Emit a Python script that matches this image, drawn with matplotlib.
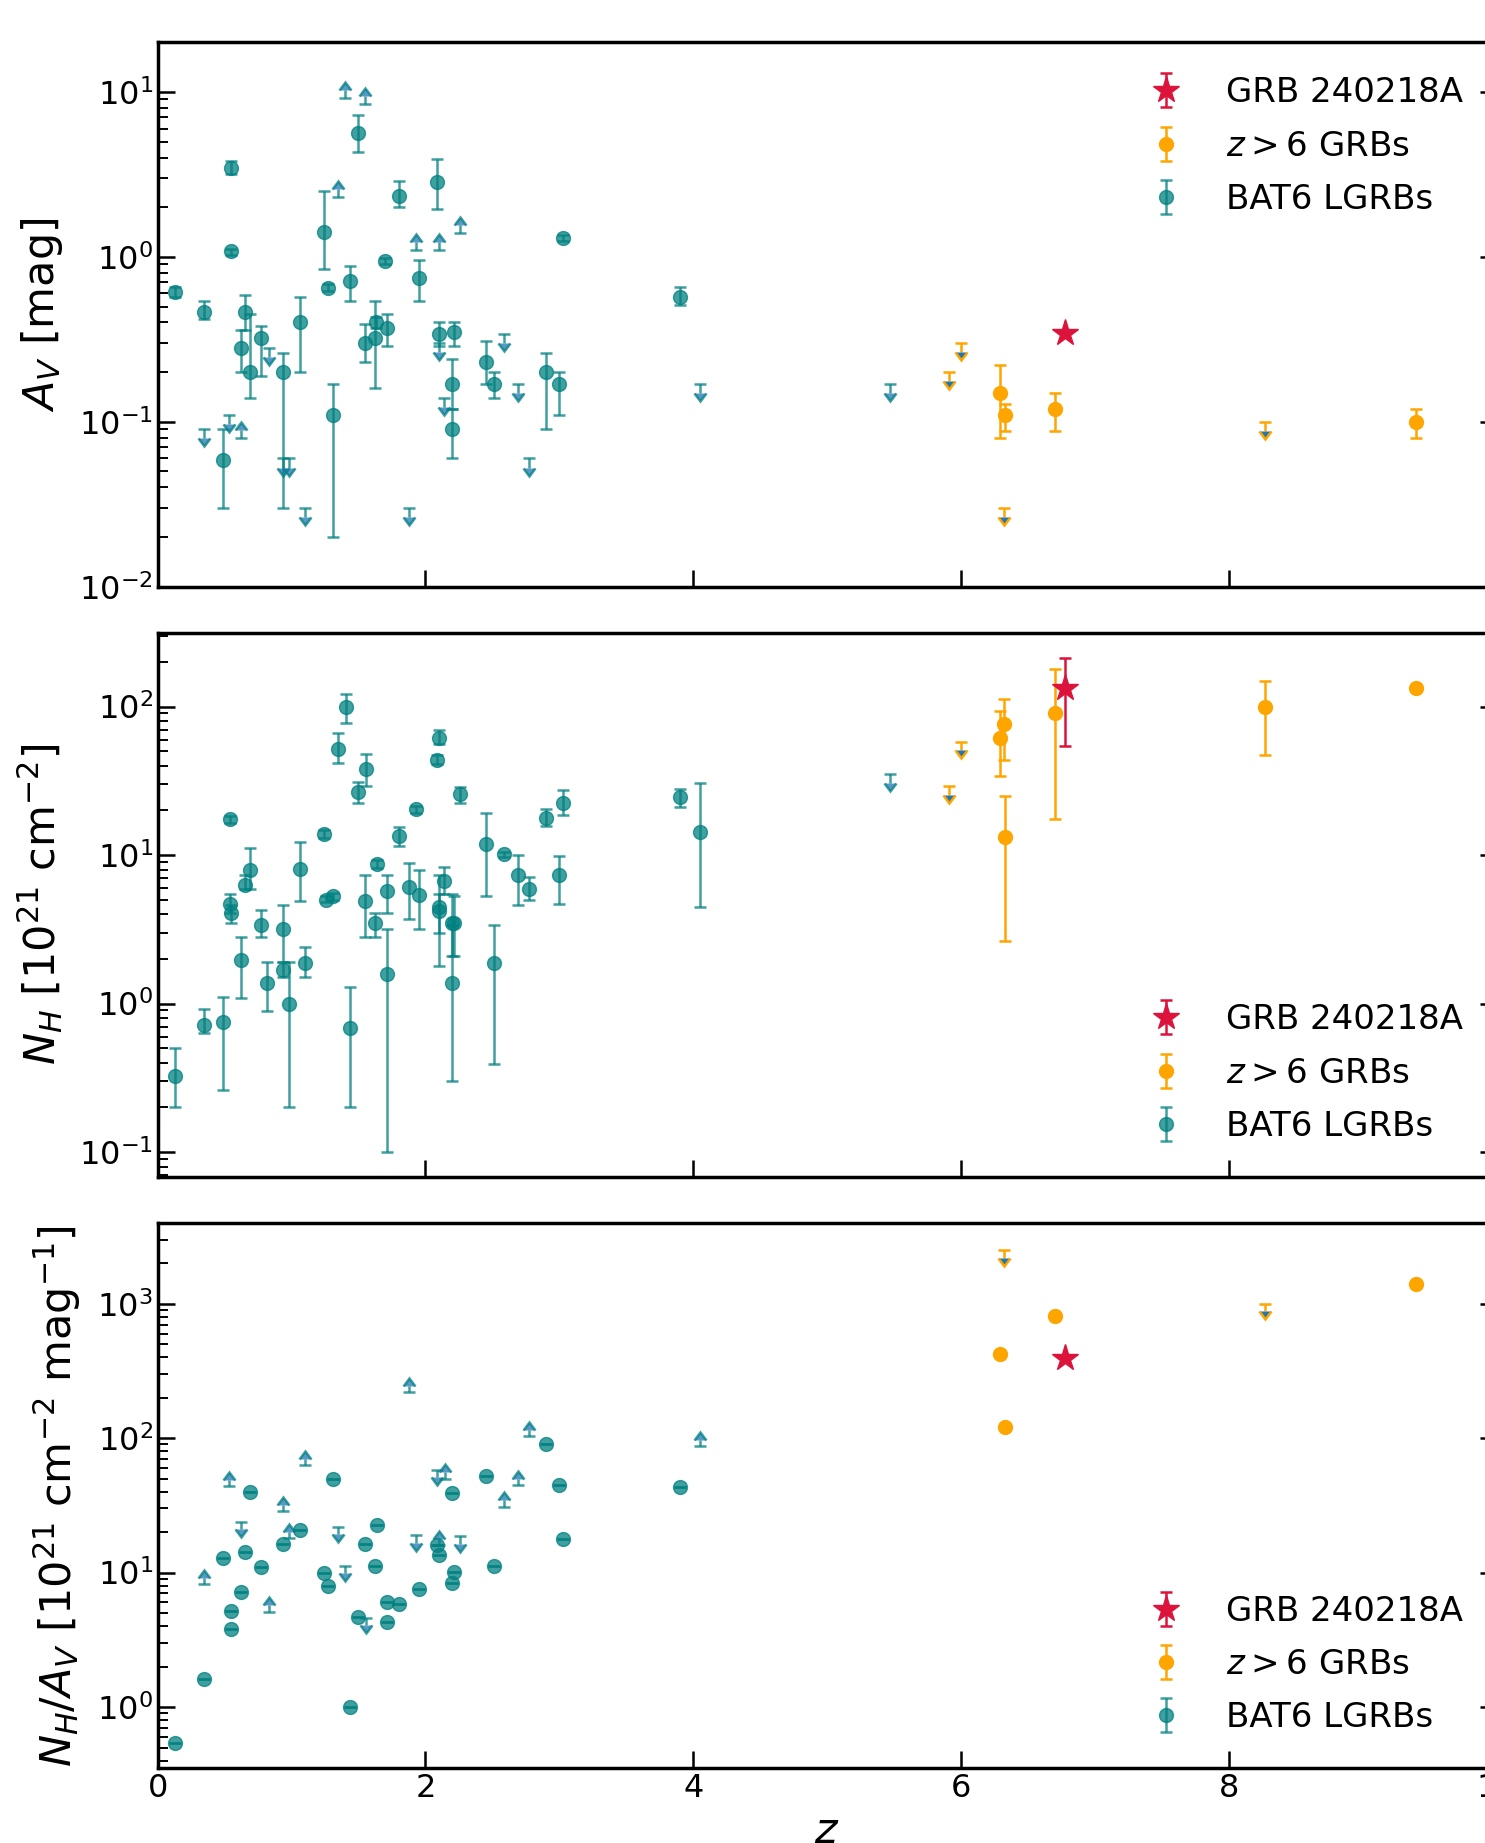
import numpy as np
import matplotlib
matplotlib.use("Agg")
import matplotlib.pyplot as plt

# ---------------- Panel 1 : A_V ----------------
bat_av_z   = [0.13, 0.35, 0.55, 0.55, 0.62, 0.65, 0.69, 0.77, 0.94, 1.06, 0.49, 1.24, 1.27, 1.31, 1.44, 1.50,
              1.55, 1.62, 1.63, 1.71, 1.80, 1.70, 1.95, 2.09, 2.10, 2.21, 2.20, 2.20, 2.45, 2.51, 2.90, 3.00, 3.03, 3.90]
bat_av     = [0.61, 0.46, 3.46, 1.08, 0.28, 0.46, 0.20, 0.32, 0.20, 0.40, 0.059, 1.42, 0.65, 0.11, 0.71, 5.65,
              0.30, 0.32, 0.40, 0.37, 2.34, 0.94, 0.74, 2.85, 0.34, 0.35, 0.17, 0.09, 0.23, 0.17, 0.20, 0.17, 1.30, 0.57]
bat_av_lo  = [0.57, 0.42, 3.2, 1.02, 0.20, 0.36, 0.14, 0.19, 0.03, 0.20, 0.03, 0.85, 0.62, 0.02, 0.54, 4.3,
              0.23, 0.16, 0.37, 0.29, 2.0, 0.90, 0.54, 1.96, 0.29, 0.29, 0.12, 0.06, 0.17, 0.14, 0.09, 0.11, 1.25, 0.51]
bat_av_hi  = [0.66, 0.54, 3.8, 1.12, 0.36, 0.59, 0.45, 0.38, 0.26, 0.57, 0.09, 2.5, 0.68, 0.17, 0.88, 7.2,
              0.39, 0.54, 0.43, 0.45, 2.9, 0.98, 0.96, 3.9, 0.40, 0.40, 0.24, 0.12, 0.31, 0.20, 0.26, 0.20, 1.36, 0.66]
bat_av_ul_z = [0.35, 0.53, 0.83, 0.94, 0.98, 1.10, 1.88, 2.10, 2.14, 2.59, 2.69, 2.77, 4.05, 5.47]
bat_av_ul   = [0.09, 0.11, 0.28, 0.06, 0.06, 0.03, 0.03, 0.30, 0.14, 0.34, 0.17, 0.06, 0.17, 0.17]
bat_av_ll_z = [0.62, 1.35, 1.40, 1.55, 1.93, 2.10, 2.26]
bat_av_ll   = [0.08, 2.3, 9.2, 8.4, 1.1, 1.1, 1.4]

hz_av_z  = [6.29, 6.33, 6.70, 9.40]
hz_av    = [0.15, 0.11, 0.12, 0.10]
hz_av_lo = [0.08, 0.088, 0.088, 0.08]
hz_av_hi = [0.22, 0.128, 0.15, 0.12]
hz_av_ul_z = [5.91, 6.00, 6.32, 8.27]
hz_av_ul   = [0.20, 0.30, 0.03, 0.10]

grb_z = 6.78
grb_av, grb_av_lo, grb_av_hi = 0.345, 0.345, 0.345

# ---------------- Panel 2 : N_H ----------------
bat_nh_z  = [0.13, 0.35, 0.49, 0.54, 0.54, 0.55, 0.62, 0.65, 0.69, 0.77, 0.82, 0.94, 0.94, 0.98, 1.06, 1.10,
             1.24, 1.26, 1.31, 1.44, 1.35, 1.41, 1.50, 1.56, 1.55, 1.62, 1.64, 1.71, 1.71, 1.80, 1.88, 1.93,
             1.95, 2.09, 2.10, 2.10, 2.10, 2.14, 2.20, 2.21, 2.20, 2.26, 2.45, 2.51, 2.59, 2.69, 2.77, 2.90,
             3.00, 3.03, 3.90, 4.05]
bat_nh    = [0.325, 0.72, 0.75, 17.4, 4.7, 4.05, 1.98, 6.3, 7.9, 3.4, 1.37, 3.2, 1.68, 1.0, 8.1, 1.88,
             13.8, 5.0, 5.3, 0.69, 52, 100, 26.4, 38, 4.9, 3.5, 8.7, 5.7, 1.58, 13.4, 6.1, 20.3,
             5.4, 44, 61, 4.5, 4.2, 6.7, 3.5, 3.5, 1.37, 25.9, 11.8, 1.88, 10.1, 7.3, 5.9, 17.9,
             7.4, 22.3, 24.5, 14.2]
bat_nh_lo = [0.2, 0.63, 0.26, 16.5, 4.1, 3.5, 1.09, 5.9, 5.9, 2.8, 0.89, 1.9, 1.5, 0.2, 4.9, 1.5,
             13.0, 4.8, 5.0, 0.2, 42, 78, 22.5, 29, 2.8, 2.8, 8.2, 4.1, 0.1, 11.5, 3.7, 19.3,
             3.2, 41, 56, 1.8, 3.0, 5.5, 2.1, 2.1, 0.3, 22.5, 5.3, 0.39, 9.7, 4.6, 5.0, 15.6,
             4.7, 18.6, 21.0, 4.5]
bat_nh_hi = [0.5, 0.92, 1.1, 18.3, 5.5, 4.6, 2.8, 7.3, 11.2, 4.3, 1.9, 4.6, 1.9, 1.9, 12.2, 2.4,
             14.8, 5.3, 5.6, 1.29, 66, 121, 31, 48, 7.4, 4.1, 9.2, 7.4, 3.2, 15.5, 8.8, 21.5,
             8.0, 47, 70, 7.3, 5.5, 8.3, 5.5, 5.3, 3.4, 28.9, 19.1, 3.4, 10.5, 10.0, 7.1, 20.3,
             9.9, 27.6, 28.0, 30.5]
bat_nh_ul_z = [5.47]
bat_nh_ul   = [35]

hz_nh_z  = [6.29, 6.32, 6.33, 6.70, 8.27, 9.40]
hz_nh    = [61, 76, 13.2, 91, 99, 134]
hz_nh_lo = [34, 44, 2.65, 17.6, 47, 128]
hz_nh_hi = [94, 112, 25, 180, 148, 140]
hz_nh_ul_z = [5.91, 6.00]
hz_nh_ul   = [29, 58]

grb_nh, grb_nh_lo, grb_nh_hi = 134, 54, 213

# ---------------- Panel 3 : N_H / A_V ----------------
bat_r_z = [0.13, 0.35, 0.49, 0.55, 0.55, 0.62, 0.65, 0.69, 0.77, 0.94, 1.06, 1.24, 1.27, 1.31, 1.44, 1.50,
           1.55, 1.62, 1.64, 1.71, 1.71, 1.80, 1.95, 2.09, 2.10, 2.20, 2.21, 2.20, 2.45, 2.51, 2.90, 3.00,
           3.03, 3.90]
bat_r   = [0.54, 1.61, 12.9, 5.2, 3.8, 7.2, 14.3, 40, 11.1, 16.3, 20.7, 9.9, 8.0, 50, 1.0, 4.7,
           16.3, 11.3, 22.6, 6.1, 4.3, 5.8, 7.6, 16.0, 13.5, 39, 10.1, 8.4, 52.5, 11.3, 91, 45,
           17.7, 43]
bat_r_ll_z = [0.35, 0.53, 0.83, 0.94, 0.98, 1.10, 1.88, 2.10, 2.15, 2.59, 2.69, 2.77, 4.05]
bat_r_ll   = [8.2, 44, 5.1, 28.5, 18, 63, 220, 16, 50, 31, 44.6, 103, 87]
bat_r_ul_z = [0.62, 1.35, 1.40, 1.56, 1.93, 2.09, 2.26]
bat_r_ul   = [24, 22, 11.2, 4.6, 18.9, 58, 18.6]

hz_r_z = [6.29, 6.33, 6.70, 9.40]
hz_r   = [423, 122, 806, 1400]
hz_r_ul_z = [6.32, 8.27]
hz_r_ul   = [2500, 1000]

grb_r = 395

labels = ["GRB 240218A", r"$z>6$ GRBs", "BAT6 LGRBs"]
ylabels = [r"$A_V$ [mag]", r"$N_H$ [$10^{21}$ cm$^{-2}$]",
           r"$N_H/A_V$ [$10^{21}$ cm$^{-2}$ mag$^{-1}$]"]

C_BAT = "teal"
C_HZ = "orange"
C_GRB = "crimson"
A_BAT = 0.75

EB = dict(capsize=4, elinewidth=1.8, capthick=1.8)
LIMFRAC = 0.12


def yerr(v, lo, hi):
    v = np.asarray(v, float)
    return [v - np.asarray(lo, float), np.asarray(hi, float) - v]


def limits(ax, z, v, color, alpha, upper):
    v = np.asarray(v, float)
    kw = dict(uplims=True) if upper else dict(lolims=True)
    ax.errorbar(z, v, yerr=LIMFRAC * v, fmt="none", ecolor=color, alpha=alpha, **kw, **EB)


fig = plt.figure(figsize=(14.85, 18.43), dpi=100)
W, H = 1485.0, 1843.0
x0 = 157.6 / W
wd = (1496.6 - 157.6) / W
boxes = [(42.3, 586.7), (632.6, 1177.0), (1222.8, 1768.4)]
axes = [fig.add_axes([x0, 1 - b / H, wd, (b - t) / H]) for t, b in boxes]
ylims = [(0.01, 20), (0.068, 315), (0.35, 4000)]

# panel 1
ax = axes[0]
hb = ax.errorbar(bat_av_z, bat_av, yerr=yerr(bat_av, bat_av_lo, bat_av_hi), fmt="o", ms=10,
                 color=C_BAT, alpha=A_BAT, **EB)
limits(ax, bat_av_ul_z, bat_av_ul, C_BAT, A_BAT, True)
limits(ax, bat_av_ll_z, bat_av_ll, C_BAT, A_BAT, False)
hh = ax.errorbar(hz_av_z, hz_av, yerr=yerr(hz_av, hz_av_lo, hz_av_hi), fmt="o", ms=10, color=C_HZ, **EB)
limits(ax, hz_av_ul_z, hz_av_ul, C_HZ, 1.0, True)
hg = ax.errorbar([grb_z], [grb_av], yerr=yerr([grb_av], [grb_av_lo], [grb_av_hi]), fmt="*", ms=20,
                 color=C_GRB, **EB)
handles = [(hg, hh, hb)]

# panel 2
ax = axes[1]
hb = ax.errorbar(bat_nh_z, bat_nh, yerr=yerr(bat_nh, bat_nh_lo, bat_nh_hi), fmt="o", ms=10,
                 color=C_BAT, alpha=A_BAT, **EB)
limits(ax, bat_nh_ul_z, bat_nh_ul, C_BAT, A_BAT, True)
hh = ax.errorbar(hz_nh_z, hz_nh, yerr=yerr(hz_nh, hz_nh_lo, hz_nh_hi), fmt="o", ms=10, color=C_HZ, **EB)
limits(ax, hz_nh_ul_z, hz_nh_ul, C_HZ, 1.0, True)
hg = ax.errorbar([grb_z], [grb_nh], yerr=yerr([grb_nh], [grb_nh_lo], [grb_nh_hi]), fmt="*", ms=20,
                 color=C_GRB, **EB)
handles.append((hg, hh, hb))

# panel 3
ax = axes[2]
hb = ax.errorbar(bat_r_z, bat_r, yerr=np.zeros(len(bat_r)), fmt="o", ms=10, color=C_BAT, alpha=A_BAT, **EB)
limits(ax, bat_r_ul_z, bat_r_ul, C_BAT, A_BAT, True)
limits(ax, bat_r_ll_z, bat_r_ll, C_BAT, A_BAT, False)
hh = ax.errorbar(hz_r_z, hz_r, yerr=np.zeros(len(hz_r)), fmt="o", ms=10, color=C_HZ, **EB)
limits(ax, hz_r_ul_z, hz_r_ul, C_HZ, 1.0, True)
hg = ax.errorbar([grb_z], [grb_r], yerr=[0.0], fmt="*", ms=20, color=C_GRB, **EB)
handles.append((hg, hh, hb))

locs = ["upper right", "lower right", "lower right"]
for i, ax in enumerate(axes):
    ax.set_yscale("log")
    ax.set_xlim(0, 10)
    ax.set_ylim(*ylims[i])
    ax.set_xticks([0, 2, 4, 6, 8, 10])
    ax.tick_params(which="both", direction="in", right=True, top=False, labelsize=23)
    ax.tick_params(which="major", length=12, width=1.8)
    ax.tick_params(which="minor", length=7.5, width=1.4)
    for s in ax.spines.values():
        s.set_linewidth(2.5)
    ax.set_ylabel(ylabels[i], fontsize=31, labelpad=10)
    if i < 2:
        ax.tick_params(axis="x", labelbottom=False)
    ax.legend(list(handles[i]), labels, loc=locs[i], frameon=False, fontsize=24.5,
              labelspacing=0.6, handletextpad=0.75, borderaxespad=0.6)

axes[2].set_xlabel(r"$z$", fontsize=31)

fig.savefig("out.png", dpi=100)
